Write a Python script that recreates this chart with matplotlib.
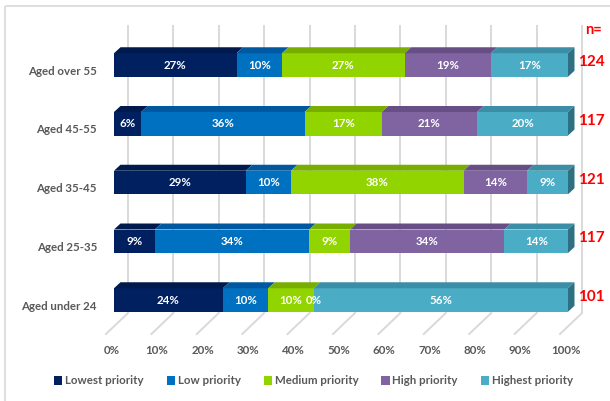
import matplotlib
matplotlib.use("Agg")
import matplotlib.pyplot as plt
from matplotlib.patches import Polygon, Rectangle, Patch

plt.rcParams['font.family'] = ['Lato', 'DejaVu Sans']

categories = ["Aged over 55", "Aged 45-55", "Aged 35-45", "Aged 25-35", "Aged under 24"]
series_names = ["Lowest priority", "Low priority", "Medium priority", "High priority", "Highest priority"]
lowest = [27, 6, 29, 9, 24]
low = [10, 36, 10, 34, 10]
medium = [27, 17, 38, 9, 10]
high = [19, 21, 14, 34, 0]
highest = [17, 20, 9, 14, 56]
n_counts = [124, 117, 121, 117, 101]
x_ticks = [0, 10, 20, 30, 40, 50, 60, 70, 80, 90, 100]

front_colors = ["#002060", "#0070C0", "#92D400", "#8064A2", "#4BACC6"]
top_colors = ["#001a4d", "#0059a0", "#78ae00", "#674f86", "#3b8ea5"]
side_color = "#2f6f82"
grey = "#595959"
grid_col = "#d9d9d9"
fs = 8.3

W, H = 610, 401
fig = plt.figure(figsize=(W / 100, H / 100), dpi=100)
ax = fig.add_axes([0, 0, 1, 1])
ax.axis("off")

# value axis: 4.54 px per percent, 0% at x=114 px; rows 58.75 px apart
px_x, px_row = 4.54, 58.75
ax.set_xlim(-114 / px_x, (W - 114) / px_x)
ax.set_ylim((H - 65) / px_row, -65 / px_row)

ux = 1 / px_x      # one pixel in x data units
uy = 1 / px_row    # one pixel in y data units

# outer chart frame
ax.add_patch(Rectangle((-109 * ux, -59 * uy), 700 * ux, 500 * uy, fill=False,
                       edgecolor=grid_col, lw=1.2, zorder=0))

# back-wall gridlines with slanted floor lines
wall_dx = 14 * ux
g_top, g_bot, g_floor = -40 * uy, 248 * uy, 269 * uy
for v in x_ticks:
    xb = v + wall_dx
    ax.plot([xb, xb], [g_top, g_bot], color=grid_col, lw=1.4, zorder=1,
            solid_capstyle="butt")
    ax.plot([xb, xb - 22 * ux], [g_bot, g_floor], color=grid_col, lw=1.4, zorder=1)
    ax.text(v - 0.5, 285 * uy, f"{v}%", ha="center", va="center",
            fontsize=fs, fontweight="bold", color=grey)

# 3D stacked bars
half = 11.75 * uy
ddx, ddy = 6.5 * ux, -6 * uy
series = [lowest, low, medium, high, highest]
n_x = 100 + 10 * ux
for r, cat in enumerate(categories):
    left = 0
    yt, yb = r - half, r + half
    last_right = 0
    for s, vals in enumerate(series):
        w = vals[r]
        if w > 0:
            x0, x1 = left, left + w
            ax.add_patch(Rectangle((x0, yt), w, 2 * half, facecolor=front_colors[s],
                                   edgecolor="none", zorder=3))
            ax.add_patch(Polygon([(x0, yt), (x1, yt), (x1 + ddx, yt + ddy),
                                  (x0 + ddx, yt + ddy)], closed=True,
                                 facecolor=top_colors[s], edgecolor="none", zorder=3))
            last_right = x1
        ax.text(left + w / 2, r, f"{w}%", ha="center", va="center",
                fontsize=fs, fontweight="bold", color="white", zorder=5)
        left += w
    ax.add_patch(Polygon([(last_right, yt), (last_right + ddx, yt + ddy),
                          (last_right + ddx, yb + ddy), (last_right, yb)], closed=True,
                         facecolor=side_color, edgecolor="none", zorder=3))
    ax.text(-17 * ux, r + 6 * uy, cat, ha="right", va="center",
            fontsize=fs, fontweight="bold", color=grey)
    ax.text(n_x, r - 3 * uy, str(n_counts[r]),
            ha="left", va="center", fontsize=11, fontweight="bold", color="#FF0000")

ax.text(n_x + 7 * ux, -35 * uy, "n=", ha="left", va="center",
        fontsize=10.5, fontweight="bold", color="#FF0000")

handles = [Patch(facecolor=c, edgecolor="none") for c in front_colors]
ax.legend(handles, series_names, loc="center", bbox_to_anchor=(0.514, 1 - 381 / H),
          ncol=5, frameon=False, handlelength=0.7, handleheight=0.7,
          handletextpad=0.25, columnspacing=2.0, prop={"weight": "bold", "size": fs},
          labelcolor=grey)

fig.savefig("out.png", dpi=100)
